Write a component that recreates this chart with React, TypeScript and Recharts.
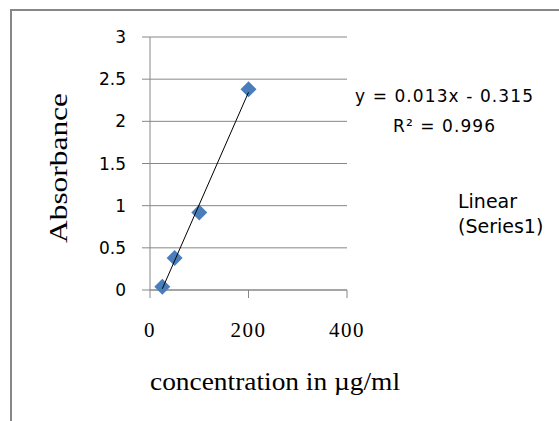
import React from 'react';
import { ScatterChart, Scatter, XAxis, YAxis, CartesianGrid, Legend } from 'recharts';

// standard curve readings
const concentration = [25, 50, 100, 200];
const absorbance = [0.04, 0.38, 0.92, 2.38];

const xTicks = [0, 200, 400];
const yTicks = [0, 0.5, 1, 1.5, 2, 2.5, 3];

const xTitle = 'concentration in µg/ml';
const yTitle = 'Absorbance';
const equationText = 'y = 0.013x - 0.315';
const rSquaredText = 'R² = 0.996';
const legendLines = ['Linear', '(Series1)'];

const points = concentration.map((x, i) => ({ x, y: absorbance[i] }));

// linear least squares fit, drawn between the first and last x like Excel does
function fitLine(xs: number[], ys: number[]) {
  const n = xs.length;
  const mx = xs.reduce((a, b) => a + b, 0) / n;
  const my = ys.reduce((a, b) => a + b, 0) / n;
  let sxy = 0;
  let sxx = 0;
  xs.forEach((x, i) => {
    sxy += (x - mx) * (ys[i] - my);
    sxx += (x - mx) * (x - mx);
  });
  const slope = sxy / sxx;
  const intercept = my - slope * mx;
  const lo = Math.min(...xs);
  const hi = Math.max(...xs);
  return [
    { x: lo, y: slope * lo + intercept },
    { x: hi, y: slope * hi + intercept },
  ];
}

const trend = fitLine(concentration, absorbance);

const GRID = '#878787';
const BLUE = '#4a7ebb';

const Diamond = (props: any) => {
  const { cx, cy } = props;
  const r = 8;
  return <path d={`M${cx},${cy - r}L${cx + r},${cy}L${cx},${cy + r}L${cx - r},${cy}Z`} fill={BLUE} />;
};

const renderLegend = () => (
  <div style={{ fontFamily: 'DejaVu Sans', fontSize: 19, lineHeight: '25px', color: '#000' }}>
    {legendLines.map((l) => (
      <div key={l}>{l}</div>
    ))}
  </div>
);

export default function App() {
  return (
    <div style={{ position: 'absolute', left: 0, top: 0, width: 559, height: 421, overflow: 'hidden', background: '#fff' }}>
      <div
        style={{
          position: 'absolute',
          left: 10,
          top: 9,
          width: 700,
          height: 600,
          borderTop: `2px solid ${GRID}`,
          borderLeft: `2px solid ${GRID}`,
        }}
      />
      <ScatterChart
        width={559}
        height={421}
        margin={{ top: 37, right: 212, bottom: 71, left: 0 }}
        style={{ position: 'absolute', left: 0, top: 0 }}
      >
        <CartesianGrid horizontal vertical={false} stroke={GRID} strokeWidth={1} />
        <XAxis
          type="number"
          dataKey="x"
          domain={[0, 400]}
          ticks={xTicks}
          height={60}
          tickSize={8}
          tickMargin={24}
          stroke={GRID}
          tick={{ fill: '#000', fontFamily: 'Liberation Serif', fontSize: 21, letterSpacing: 1.5 }}
        />
        <YAxis
          type="number"
          dataKey="y"
          domain={[0, 3]}
          ticks={yTicks}
          width={150}
          tickSize={8}
          tickMargin={16}
          stroke={GRID}
          tick={{ fill: '#000', fontFamily: 'DejaVu Sans', fontSize: 17 }}
        />
        <Scatter data={points} shape={<Diamond />} isAnimationActive={false} legendType="none" />
        <Scatter
          data={trend}
          line={{ stroke: '#000', strokeWidth: 1 }}
          shape={() => <g />}
          isAnimationActive={false}
          name="Linear (Series1)"
        />
        <Legend
          layout="horizontal"
          align="center"
          verticalAlign="middle"
          content={renderLegend}
          wrapperStyle={{ left: 458, top: 189, width: 100 }}
        />
      </ScatterChart>
      <svg width={559} height={421} style={{ position: 'absolute', left: 0, top: 0, pointerEvents: 'none' }}>
        <text
          x={67}
          y={168}
          transform="rotate(-90, 67, 168)"
          textAnchor="middle"
          fontFamily="Liberation Serif"
          fontSize={26}
          textLength={150}
          lengthAdjust="spacingAndGlyphs"
        >
          {yTitle}
        </text>
        <text x={275} y={390} textAnchor="middle" fontFamily="Liberation Serif" fontSize={25} textLength={250} lengthAdjust="spacingAndGlyphs">
          {xTitle}
        </text>
        <text x={444} y={102} textAnchor="middle" fontFamily="DejaVu Sans" fontSize={17} textLength={178}>
          {equationText}
        </text>
        <text x={444} y={132} textAnchor="middle" fontFamily="DejaVu Sans" fontSize={17} textLength={102}>
          {rSquaredText}
        </text>
      </svg>
    </div>
  );
}
